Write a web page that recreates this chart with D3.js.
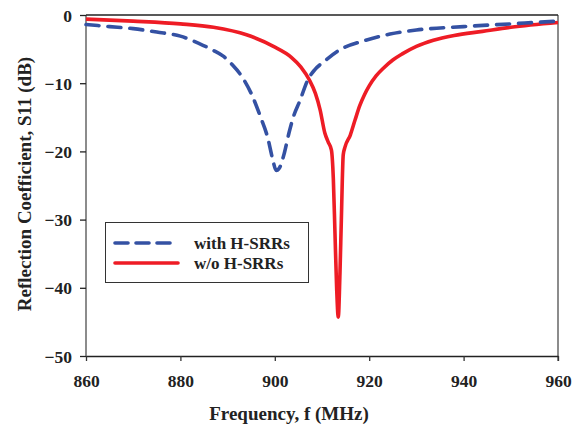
<!DOCTYPE html>
<html><head><meta charset="utf-8">
<script src="https://cdn.jsdelivr.net/npm/d3@7"></script>
<style>body{margin:0;background:#fff}svg{display:block}text{font-family:"Liberation Serif","Times New Roman",serif;font-weight:bold}</style>
</head><body>
<svg id="c" width="584" height="428"></svg>
<script>
const xTicks = [860, 880, 900, 920, 940, 960];
const yTicks = [0, -10, -20, -30, -40, -50];
const seriesNames = ["with H-SRRs", "w/o H-SRRs"];
const withF = [860,865,870,875,880,884,887,889,891,893,895,897,898.5,899.5,900.3,901,902,903,904,905.3,907,908.5,910.3,913.8,918.8,924.4,930,940,950,960];
const withS = [-1.4,-1.7,-2.0,-2.5,-3.1,-4.2,-5.2,-6.0,-7.3,-9.0,-11.5,-15.0,-18.0,-21.0,-22.8,-22.4,-20.3,-17.3,-14.8,-12.6,-9.5,-8.0,-6.9,-5.1,-3.8,-2.8,-2.2,-1.7,-1.3,-0.9];
const woF = [860,870,880,887,894,899.7,903.5,905.5,907.3,908.6,909.6,910.6,911.3,912,912.4,912.75,913.1,913.45,913.8,914.1,914.5,914.9,916,917,918,919,920,921.5,923,925,927,930,933.6,938,944,950,960];
const woS = [-0.6,-0.9,-1.3,-1.8,-2.9,-4.6,-6.2,-7.6,-9.5,-11.5,-13.9,-17.3,-18.6,-19.8,-24,-32,-40,-44.3,-38,-30,-20.5,-19.3,-17.6,-15.4,-13.3,-11.7,-10.4,-8.9,-7.8,-6.6,-5.7,-4.6,-3.7,-3.0,-2.4,-1.8,-1.1];

const svg = d3.select("#c");
const L = 86, R = 558, T = 15, B = 356;
const x = d3.scaleLinear().domain([860, 960]).range([L, R]);
const y = d3.scaleLinear().domain([-50, 0]).range([B, T]);

// frame
svg.append("line").attr("x1", L).attr("x2", L).attr("y1", T).attr("y2", B).attr("stroke", "#8c8c8c").attr("stroke-width", 2);
svg.append("line").attr("x1", R).attr("x2", R).attr("y1", T).attr("y2", B + 5).attr("stroke", "#8c8c8c").attr("stroke-width", 2);
svg.append("line").attr("x1", L).attr("x2", R).attr("y1", T).attr("y2", T).attr("stroke", "#222").attr("stroke-width", 1.5);

const xa = svg.append("g").attr("transform", `translate(0,${B})`)
  .call(d3.axisBottom(x).tickValues(xTicks).tickSize(5).tickSizeOuter(0).tickFormat(d3.format("d")));
xa.select(".domain").attr("stroke", "#222").attr("stroke-width", 1.5);
xa.selectAll(".tick line").attr("stroke", "#333").attr("stroke-width", 1.3);
xa.selectAll("text").attr("font-size", 17.5).attr("fill", "#222").attr("dy", 0).attr("y", 31);

const ya = svg.append("g").attr("transform", `translate(${L},0)`)
  .call(d3.axisLeft(y).tickValues(yTicks).tickSize(6).tickSizeOuter(0).tickFormat(d3.format("d")));
ya.select(".domain").remove();
ya.selectAll(".tick line").attr("stroke", "#222").attr("stroke-width", 1.3);
ya.selectAll("text").attr("font-size", 17.5).attr("fill", "#222").attr("x", -14).attr("dy", "0.35em");

// curves
const line = d3.line().x(d => x(d[0])).y(d => y(d[1])).curve(d3.curveMonotoneX);
const blueData = withF.map((f, i) => [f, withS[i]]);
const redData = woF.map((f, i) => [f, woS[i]]);
svg.append("path").attr("d", line(redData)).attr("fill", "none").attr("stroke", "#ee1c25").attr("stroke-width", 3.6).attr("stroke-linejoin", "round");
svg.append("path").attr("d", line(blueData)).attr("fill", "none").attr("stroke", "#3451a3").attr("stroke-width", 3.6)
  .attr("stroke-dasharray", "13,9").attr("stroke-linecap", "round");

// legend
const lg = svg.append("g");
lg.append("rect").attr("x", 105.5).attr("y", 222.5).attr("width", 203).attr("height", 60).attr("fill", "#fff").attr("stroke", "#333").attr("stroke-width", 1);
lg.append("line").attr("x1", 115).attr("x2", 170).attr("y1", 243).attr("y2", 243).attr("stroke", "#3451a3").attr("stroke-width", 3.6).attr("stroke-dasharray", "13,8").attr("stroke-linecap", "round");
lg.append("line").attr("x1", 115).attr("x2", 178).attr("y1", 263).attr("y2", 263).attr("stroke", "#ee1c25").attr("stroke-width", 3.6).attr("stroke-linecap", "round");
lg.append("text").attr("x", 194).attr("y", 249).attr("font-size", 17).attr("fill", "#222").text(seriesNames[0]);
lg.append("text").attr("x", 194).attr("y", 269).attr("font-size", 17).attr("fill", "#222").text(seriesNames[1]);

// titles
svg.append("text").attr("x", 289).attr("y", 420).attr("text-anchor", "middle").attr("font-size", 19).attr("fill", "#222").text("Frequency, f (MHz)");
svg.append("text").attr("transform", "translate(31,184) rotate(-90)").attr("text-anchor", "middle").attr("font-size", 19).attr("fill", "#222").text("Reflection Coefficient, S11 (dB)");
</script>
</body></html>
